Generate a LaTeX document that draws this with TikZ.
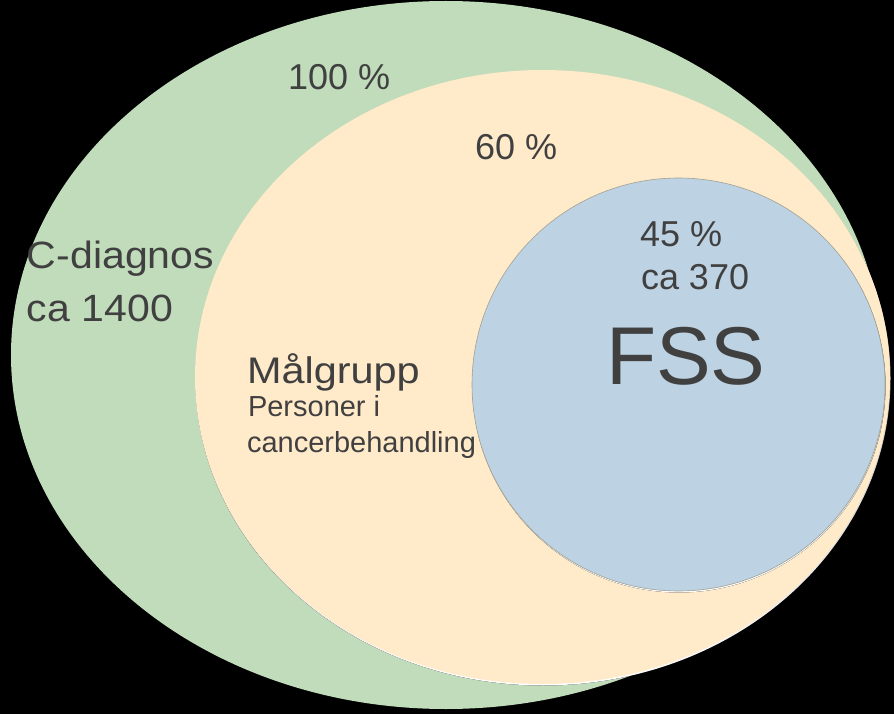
\documentclass[tikz,border=0pt]{standalone}
\usepackage{fontspec}
\setmainfont{Liberation Sans}
\newfontfamily\wideA[FakeStretch=1.08]{Liberation Sans}
\newfontfamily\wideB[FakeStretch=1.12]{Liberation Sans}
\definecolor{bgblack}{RGB}{0,0,0}
\definecolor{outergreen}{RGB}{193,220,187}
\definecolor{peach}{RGB}{255,234,202}
\definecolor{paleblue}{RGB}{189,210,226}
\definecolor{txt}{RGB}{64,64,64}
\definecolor{shade}{RGB}{140,138,118}
\tikzset{
  lbl/.style={anchor=base west, inner sep=0pt, outer sep=0pt, text=txt},
}
\begin{document}
\begin{tikzpicture}[x=1pt,y=-1pt]
\useasboundingbox (0,0) rectangle (894,714);
\fill[bgblack] (0,0) rectangle (894,714);
% outer green ellipse
\fill[outergreen] (446,355) ellipse [x radius=435, y radius=354];
% peach ellipse with soft shadow edge
\fill[shade] (543,378.5) ellipse [x radius=347.5, y radius=307];
\fill[peach] (542.5,377) ellipse [x radius=347.5, y radius=307];
% blue circle
\fill[shade] (679,386) circle [radius=206.5];
\fill[paleblue] (678.5,384.5) circle [radius=206.5];
\draw[draw=shade!80, line width=0.6pt] (678.5,384.5) circle [radius=206.5];
% texts
\node[lbl, font=\fontsize{36}{40}\selectfont] (p100) at (288,90) {100 \%};
\node[lbl, font=\fontsize{36}{40}\selectfont] (p60) at (475,160) {60 \%};
\node[lbl, font=\wideA\fontsize{38}{40}\selectfont] (cdiag) at (27,269) {C-diagnos};
\node[lbl, font=\wideA\fontsize{38}{40}\selectfont] (c1400) at (27,321) {ca 1400};
\node[lbl, font=\wideB\fontsize{37}{40}\selectfont] (malg) at (247,383) {Målgrupp};
\node[lbl, font=\fontsize{29}{32}\selectfont] (pers) at (248,416) {Personer i};
\node[lbl, font=\fontsize{29}{32}\selectfont] (canc) at (247,452) {cancerbehandling};
\node[lbl, font=\fontsize{36}{40}\selectfont] (p45) at (640,246) {45 \%};
\node[lbl, font=\fontsize{36}{40}\selectfont] (c370) at (641,289) {ca 370};
\node[lbl, font=\fontsize{82}{86}\selectfont] (fss) at (606,384) {FSS};
\end{tikzpicture}
\end{document}
